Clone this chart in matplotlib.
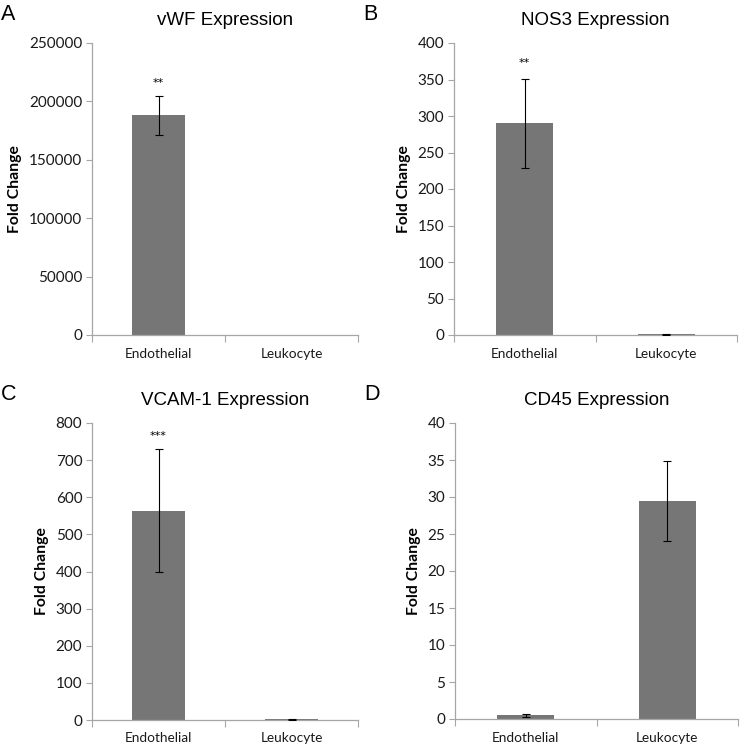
import matplotlib
matplotlib.use("Agg")
import matplotlib.pyplot as plt
from matplotlib.ticker import FixedLocator, NullFormatter

categories = ["Endothelial", "Leukocyte"]

titles = ["vWF Expression", "NOS3 Expression", "VCAM-1 Expression", "CD45 Expression"]
panel_letters = ["A", "B", "C", "D"]

vwf_values = [188000, 1.0]
vwf_errors = [17000, 0.0]
nos3_values = [290, 1.0]
nos3_errors = [61, 0.5]
vcam_values = [564, 1.5]
vcam_errors = [166, 0.5]
cd45_values = [0.5, 29.4]
cd45_errors = [0.2, 5.4]

y_maxes = [250000, 400, 800, 40]
y_steps = [50000, 50, 100, 5]

sig_labels = ["**", "**", "***", ""]
sig_y = [216000, 372, 765, None]

values_list = [vwf_values, nos3_values, vcam_values, cd45_values]
errors_list = [vwf_errors, nos3_errors, vcam_errors, cd45_errors]

W, H = 740, 749
fig = plt.figure(figsize=(W / 100, H / 100), dpi=100)

# axes boxes in pixel coords: left, right, top, bottom
boxes = [
    (92, 358, 43, 335),
    (454, 737, 43, 335),
    (92, 358, 423, 720),
    (455, 738, 423, 719),
]

tick_font = "Lato"
spine_col = "#a6a6a6"
bar_col = "#767676"

for i, (l, r, t, b) in enumerate(boxes):
    ax = fig.add_axes([l / W, 1 - b / H, (r - l) / W, (b - t) / H])
    vals = values_list[i]
    errs = errors_list[i]
    x = list(range(len(categories)))
    ax.bar(x, vals, width=0.4, color=bar_col, zorder=2)
    idx = [k for k in x if errs[k] > 0]
    ax.errorbar([x[k] for k in idx], [vals[k] for k in idx], yerr=[errs[k] for k in idx],
                fmt="none", ecolor="black", elinewidth=0.8,
                capsize=3, capthick=0.8, zorder=3)
    ax.set_xlim(-0.5, 1.5)
    ax.set_ylim(0, y_maxes[i])
    ax.set_yticks([k * y_steps[i] for k in range(int(y_maxes[i] / y_steps[i]) + 1)])
    ax.yaxis.set_major_formatter(matplotlib.ticker.FuncFormatter(lambda v, p: f"{int(v)}"))
    # x ticks at boundaries, labels centered
    ax.xaxis.set_major_locator(FixedLocator([-0.5, 0.5, 1.5]))
    ax.xaxis.set_major_formatter(NullFormatter())
    ax.xaxis.set_minor_locator(FixedLocator(x))
    ax.set_xticklabels(categories, minor=True)
    ax.tick_params(axis="x", which="minor", length=0, pad=9, labelsize=9.8)
    ax.tick_params(axis="x", which="major", length=5, width=0.8, color=spine_col, direction="out")
    ax.tick_params(axis="y", length=4, width=0.8, color=spine_col, direction="out",
                   labelsize=11, pad=3)
    for lab in ax.get_xticklabels(minor=True) + ax.get_yticklabels():
        lab.set_fontfamily(tick_font)
        lab.set_color("#1a1a1a")
    for s in ["top", "right"]:
        ax.spines[s].set_visible(False)
    for s in ["left", "bottom"]:
        ax.spines[s].set_color(spine_col)
        ax.spines[s].set_linewidth(0.9)
    ax.set_ylabel("Fold Change", fontfamily=tick_font, fontweight="bold", fontsize=11.3, labelpad=5)
    ax.set_title(titles[i], fontfamily="Liberation Sans", fontsize=13.5, pad=13)
    if sig_labels[i]:
        ax.text(0, sig_y[i], sig_labels[i], ha="center", va="center", fontsize=8,
                fontfamily="DejaVu Sans")
    # panel letter
    fig.text((l - 91) / W, 1 - (t - 29) / H, panel_letters[i], fontfamily="Liberation Sans",
             fontsize=15.5, ha="left", va="center")

fig.savefig("out.png", dpi=100)
